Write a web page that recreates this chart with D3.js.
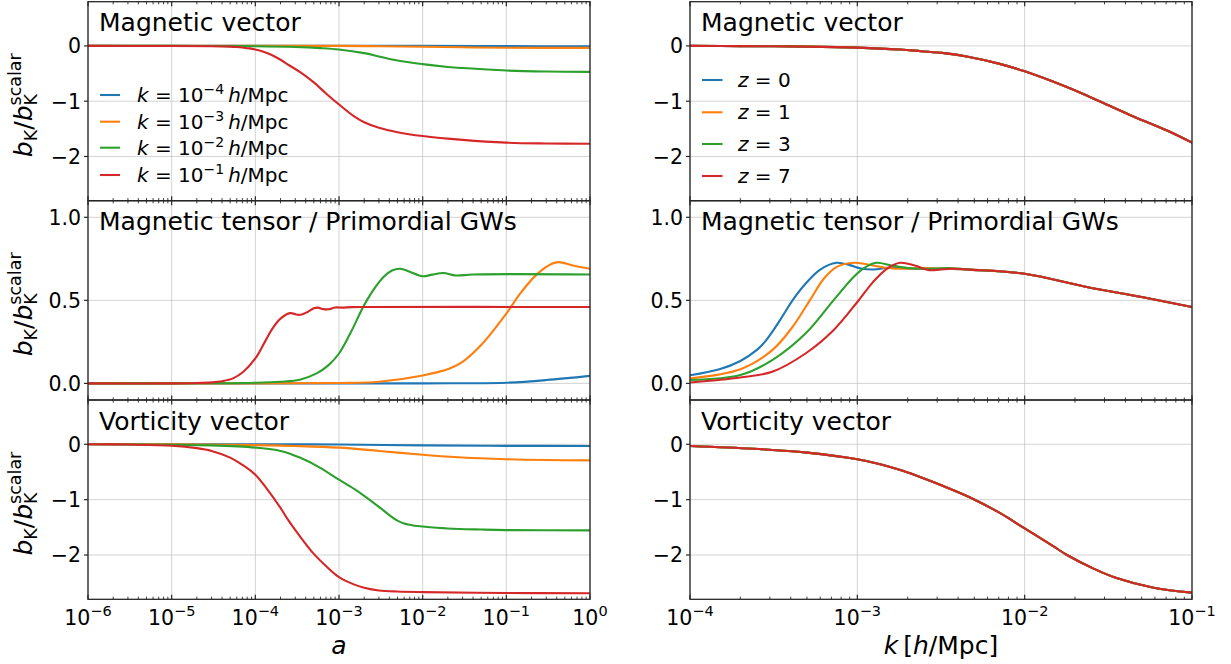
<!DOCTYPE html>
<html><head><meta charset="utf-8">
<script src="https://cdn.jsdelivr.net/npm/d3@7"></script>
<style>body{margin:0;background:#fff}svg{display:block}text{font-family:"DejaVu Sans",sans-serif;fill:#000}</style>
</head><body><svg id="c" width="1231" height="664"></svg>
<script>
// ---------- DATA ----------
const colors = ["#1f77b4","#ff7f0e","#2ca02c","#d62728"];
const kLabels = ["−4","−3","−2","−1"];          // k = 10^x h/Mpc
const zLabels = ["0","1","3","7"];
const panelTitles = ["Magnetic vector","Magnetic tensor / Primordial GWs","Vorticity vector"];
const aTicks = [1e-6,1e-5,1e-4,1e-3,1e-2,1e-1,1];
const aTickExp = ["−6","−5","−4","−3","−2","−1","0"];
const kTicks = [1e-4,1e-3,1e-2,1e-1];
const kTickExp = ["−4","−3","−2","−1"];
const yTicksVec = [-2,-1,0];
const yTickVecLabels = ["−2","−1","0"];
const yTicksTen = [0,0.5,1.0];
const yTickTenLabels = ["0.0","0.5","1.0"];

// left column: b_K / b_K^scalar versus a  ([a, value])
const magVecA_k4 = [[1e-6,0],[1e-2,0],[1e-1,-0.004],[1,-0.008]];
const magVecA_k3 = [[1e-6,0],[1e-3,0],[3e-3,-0.005],[1e-2,-0.015],[3e-2,-0.025],[1e-1,-0.033],[1,-0.036]];
const magVecA_k2 = [[1e-6,0],[1e-5,0],[3e-5,-0.002],[1e-4,-0.006],[3e-4,-0.02],[6e-4,-0.04],[1e-3,-0.065],[2e-3,-0.13],[3e-3,-0.19],[5e-3,-0.265],[1e-2,-0.33],[2e-2,-0.38],[3e-2,-0.40],[1e-1,-0.445],[3e-1,-0.463],[1,-0.47]];
const magVecA_k1 = [[1e-6,0],[1e-5,-0.001],[3e-5,-0.005],[5e-5,-0.012],[6e-5,-0.02],[7e-5,-0.03],[8.5e-5,-0.045],[1e-4,-0.065],[1.25e-4,-0.105],[1.5e-4,-0.15],[2e-4,-0.25],[2.5e-4,-0.345],[3.4e-4,-0.47],[5e-4,-0.66],[7e-4,-0.86],[1e-3,-1.06],[1.5e-3,-1.27],[2e-3,-1.38],[3e-3,-1.48],[5e-3,-1.56],[1e-2,-1.63],[3e-2,-1.70],[1e-1,-1.75],[3e-1,-1.765],[1,-1.77]];

const magTenA_k4 = [[1e-6,0],[1e-2,0],[3e-2,0.001],[1e-1,0.004],[3e-1,0.02],[1,0.045]];
const magTenA_k3 = [[1e-6,0],[1e-3,0.002],[3e-3,0.01],[1e-2,0.048],[2.1e-2,0.09],[3e-2,0.13],[5.2e-2,0.24],[1e-1,0.42],[1.46e-1,0.54],[2.3e-1,0.655],[3.5e-1,0.72],[4.2e-1,0.73],[6.3e-1,0.71],[1,0.69]];
const magTenA_k2 = [[1e-6,0],[3e-5,0.001],[1e-4,0.004],[2e-4,0.01],[3.4e-4,0.022],[5.4e-4,0.06],[7.5e-4,0.11],[1e-3,0.18],[1.36e-3,0.30],[2.15e-3,0.50],[3.4e-3,0.64],[4.3e-3,0.68],[5.4e-3,0.69],[7e-3,0.672],[1e-2,0.645],[1.3e-2,0.655],[1.76e-2,0.665],[2.5e-2,0.65],[4e-2,0.656],[1,0.656]];
const magTenA_k1 = [[1e-6,0],[1e-5,0],[2e-5,0.002],[3e-5,0.006],[4e-5,0.013],[5.4e-5,0.03],[7.2e-5,0.07],[1e-4,0.15],[1.3e-4,0.25],[1.6e-4,0.33],[2e-4,0.39],[2.6e-4,0.423],[3.2e-4,0.413],[3.6e-4,0.415],[4.2e-4,0.43],[5e-4,0.452],[5.6e-4,0.456],[6.5e-4,0.447],[7.5e-4,0.446],[9e-4,0.457],[1.1e-3,0.456],[1.4e-3,0.459],[2e-3,0.46],[1,0.46]];

const vorA_k4 = [[1e-6,0],[1e-4,0],[1e-3,-0.005],[1e-2,-0.02],[1e-1,-0.028],[1,-0.03]];
const vorA_k3 = [[1e-6,0],[1e-5,-0.002],[1e-4,-0.015],[3e-4,-0.03],[1e-3,-0.06],[3e-3,-0.12],[1e-2,-0.19],[3e-2,-0.24],[1e-1,-0.27],[3e-1,-0.285],[1,-0.29]];
const vorA_k2 = [[1e-6,0],[1e-5,-0.01],[3e-5,-0.02],[1e-4,-0.06],[2e-4,-0.12],[3.4e-4,-0.24],[5.9e-4,-0.42],[1e-3,-0.64],[1.5e-3,-0.80],[2e-3,-0.93],[3e-3,-1.13],[4e-3,-1.28],[5e-3,-1.38],[6e-3,-1.43],[7e-3,-1.455],[8e-3,-1.47],[1e-2,-1.485],[2e-2,-1.52],[5e-2,-1.54],[1e-1,-1.55],[1,-1.555]];
const vorA_k1 = [[1e-6,0],[3e-6,-0.005],[1e-5,-0.025],[2e-5,-0.07],[3e-5,-0.12],[5e-5,-0.24],[7e-5,-0.37],[1e-4,-0.55],[1.5e-4,-0.88],[2e-4,-1.15],[2.5e-4,-1.38],[3.4e-4,-1.66],[5e-4,-1.98],[7e-4,-2.2],[1e-3,-2.40],[1.5e-3,-2.53],[2e-3,-2.59],[3e-3,-2.64],[5e-3,-2.66],[1e-2,-2.67],[1e-1,-2.685],[1,-2.69]];

// right column: b_K / b_K^scalar versus k [h/Mpc]  ([k, value]); the four redshifts overlap in the vector panels
const magVecK_z0 = [[1e-4,0],[2e-4,-0.004],[5e-4,-0.012],[1e-3,-0.03],[1.8e-3,-0.065],[2.4e-3,-0.095],[3.3e-3,-0.13],[4.5e-3,-0.19],[7e-3,-0.32],[1e-2,-0.46],[1.77e-2,-0.74],[2.8e-2,-1.0],[4.5e-2,-1.28],[7.1e-2,-1.53],[1e-1,-1.75]];
const magVecK_z1 = magVecK_z0, magVecK_z3 = magVecK_z0, magVecK_z7 = magVecK_z0;

const magTenK_z0 = [[1e-4,0.049],[1.5e-4,0.085],[2e-4,0.135],[2.5e-4,0.20],[2.8e-4,0.25],[3.1e-4,0.31],[3.6e-4,0.41],[4.1e-4,0.50],[4.9e-4,0.60],[6e-4,0.685],[7.5e-4,0.726],[9e-4,0.712],[1.05e-3,0.692],[1.25e-3,0.686],[1.6e-3,0.698],[2.2e-3,0.69],[3e-3,0.692],[4.7e-3,0.685],[1e-2,0.66],[2.35e-2,0.58],[5e-2,0.52],[1e-1,0.46]];
const magTenK_z1 = [[1e-4,0.03],[2e-4,0.085],[3.1e-4,0.20],[4.1e-4,0.34],[5.2e-4,0.50],[6.3e-4,0.63],[7.5e-4,0.70],[9.5e-4,0.726],[1.24e-3,0.71],[1.5e-3,0.695],[2e-3,0.69],[2.5e-3,0.695],[3e-3,0.692],[4.7e-3,0.685],[1e-2,0.66],[2.35e-2,0.58],[5e-2,0.52],[1e-1,0.46]];
const magTenK_z3 = [[1e-4,0.02],[2e-4,0.05],[3.1e-4,0.14],[4.9e-4,0.30],[7.2e-4,0.50],[9.5e-4,0.64],[1.1e-3,0.695],[1.3e-3,0.726],[1.6e-3,0.71],[2e-3,0.695],[2.5e-3,0.69],[3e-3,0.69],[3.5e-3,0.695],[4.7e-3,0.685],[1e-2,0.66],[2.35e-2,0.58],[5e-2,0.52],[1e-1,0.46]];
const magTenK_z7 = [[1e-4,0.005],[2e-4,0.035],[3.1e-4,0.07],[4.9e-4,0.18],[7.2e-4,0.32],[1e-3,0.49],[1.24e-3,0.61],[1.5e-3,0.69],[1.8e-3,0.726],[2.2e-3,0.71],[2.7e-3,0.682],[3.1e-3,0.685],[3.6e-3,0.69],[4.2e-3,0.689],[4.7e-3,0.685],[1e-2,0.66],[2.35e-2,0.58],[5e-2,0.52],[1e-1,0.46]];

const vorK_z0 = [[1e-4,-0.03],[2.4e-4,-0.08],[5e-4,-0.15],[1e-3,-0.27],[1.37e-3,-0.36],[1.87e-3,-0.48],[2.37e-3,-0.59],[3.12e-3,-0.73],[4.72e-3,-0.96],[7.1e-3,-1.24],[1e-2,-1.52],[1.48e-2,-1.84],[1.79e-2,-2.0],[2.6e-2,-2.25],[3.5e-2,-2.41],[5.9e-2,-2.59],[1e-1,-2.68]];
const vorK_z1 = vorK_z0, vorK_z3 = vorK_z0, vorK_z7 = vorK_z0;

// ---------- LAYOUT ----------
const svg = d3.select("#c");
const cols = [{x0:88,x1:590,dom:[1e-6,1],ticks:aTicks,exp:aTickExp},{x0:690,x1:1192,dom:[1e-4,1e-1],ticks:kTicks,exp:kTickExp}];
const rows = [{y0:1.7,y1:200.7,dom:[-2.8,0.8],ticks:yTicksVec,labels:yTickVecLabels},
              {y0:200.7,y1:400,dom:[-0.1,1.1],ticks:yTicksTen,labels:yTickTenLabels},
              {y0:400,y1:599.3,dom:[-2.8,0.8],ticks:yTicksVec,labels:yTickVecLabels}];
const seriesGrid = [
  [[magVecA_k4,magVecA_k3,magVecA_k2,magVecA_k1],[magVecK_z0,magVecK_z1,magVecK_z3,magVecK_z7]],
  [[magTenA_k4,magTenA_k3,magTenA_k2,magTenA_k1],[magTenK_z0,magTenK_z1,magTenK_z3,magTenK_z7]],
  [[vorA_k4,vorA_k3,vorA_k2,vorA_k1],[vorK_z0,vorK_z1,vorK_z3,vorK_z7]]
];
const spine = "#262626";

function minorTicks(dom){
  const out=[]; const lo=Math.round(Math.log10(dom[0])), hi=Math.round(Math.log10(dom[1]));
  for(let e=lo;e<hi;e++) for(let m=2;m<=9;m++) out.push(m*Math.pow(10,e));
  return out;
}

rows.forEach((r,ri)=>{
  cols.forEach((c,ci)=>{
    const x = d3.scaleLog().domain(c.dom).range([c.x0,c.x1]);
    const y = d3.scaleLinear().domain(r.dom).range([r.y1,r.y0]);
    const g = svg.append("g");
    const id = "clip"+ri+"_"+ci;
    svg.append("clipPath").attr("id",id).append("rect").attr("x",c.x0).attr("y",r.y0).attr("width",c.x1-c.x0).attr("height",r.y1-r.y0);
    // grid
    g.selectAll(".gx").data(c.ticks).join("line").attr("x1",d=>x(d)).attr("x2",d=>x(d)).attr("y1",r.y0).attr("y2",r.y1)
      .attr("stroke","#b0b0b0").attr("stroke-opacity",0.55).attr("stroke-width",1);
    g.selectAll(".gy").data(r.ticks).join("line").attr("x1",c.x0).attr("x2",c.x1).attr("y1",d=>y(d)).attr("y2",d=>y(d))
      .attr("stroke","#b0b0b0").attr("stroke-opacity",0.55).attr("stroke-width",1);
    // lines
    const line = d3.line().x(d=>x(d[0])).y(d=>y(d[1])).curve(d3.curveCatmullRom.alpha(0.5));
    const lg = g.append("g").attr("clip-path","url(#"+id+")");
    seriesGrid[ri][ci].forEach((s,si)=>{
      lg.append("path").attr("d",line(s)).attr("fill","none").attr("stroke",colors[si]).attr("stroke-width",2.1).attr("stroke-linejoin","round").attr("stroke-linecap","round");
    });
    // frame
    g.append("rect").attr("x",c.x0).attr("y",r.y0).attr("width",c.x1-c.x0).attr("height",r.y1-r.y0)
      .attr("fill","none").attr("stroke",spine).attr("stroke-width",1.3);
    // x ticks (inward, top & bottom)
    const mt = minorTicks(c.dom);
    [[r.y1,-1],[r.y0,1]].forEach(([yy,dir])=>{
      g.selectAll(null).data(c.ticks).join("line").attr("x1",d=>x(d)).attr("x2",d=>x(d)).attr("y1",yy).attr("y2",yy+dir*4.5).attr("stroke",spine).attr("stroke-width",1.2);
      g.selectAll(null).data(mt).join("line").attr("x1",d=>x(d)).attr("x2",d=>x(d)).attr("y1",yy).attr("y2",yy+dir*2.6).attr("stroke",spine).attr("stroke-width",0.9);
    });
    // y ticks (outward left)
    g.selectAll(null).data(r.ticks).join("line").attr("x1",c.x0-4).attr("x2",c.x0).attr("y1",d=>y(d)).attr("y2",d=>y(d)).attr("stroke",spine).attr("stroke-width",1.2);
    g.selectAll(null).data(r.ticks).join("text").attr("x",c.x0-7).attr("y",d=>y(d)).attr("dy","0.36em")
      .attr("text-anchor","end").attr("font-size",20.5).text((d,i)=>r.labels[i]);
    // title
    g.append("text").attr("x",c.x0+11).attr("y",r.y0+29.5).attr("font-size",25).text(panelTitles[ri]);
    // x tick labels
    if(ri===2){
      c.ticks.forEach((t,i)=>{
        const tx = g.append("text").attr("x",x(t)).attr("y",625).attr("text-anchor","middle").attr("font-size",20.5);
        tx.append("tspan").text("10");
        tx.append("tspan").attr("font-size",14.5).attr("dy",-9).text(c.exp[i]);
      });
    }
  });
  // y label
  const cy = (r.y0+r.y1)/2 + 4;
  const lg = svg.append("g").attr("transform","translate(31.5,"+cy+") rotate(-90)");
  const tmp = lg.append("text").attr("font-size",17.5).text("K");
  const kw = tmp.node().getComputedTextLength(); tmp.remove();
  const t = lg.append("text").attr("x",0).attr("y",0).attr("text-anchor","middle").attr("font-size",25);
  t.append("tspan").attr("font-style","italic").text("b");
  t.append("tspan").attr("font-size",17.5).attr("dy",5.5).text("K");
  t.append("tspan").attr("dy",-5.5).text("/");
  t.append("tspan").attr("font-style","italic").text("b");
  t.append("tspan").attr("font-size",17.5).attr("dy",5.5).text("K");
  t.append("tspan").attr("font-size",17.5).attr("dx",-kw).attr("dy",-16).text("scalar");
});

// x axis labels
const xa = svg.append("text").attr("x",(cols[0].x0+cols[0].x1)/2).attr("y",654).attr("text-anchor","middle").attr("font-size",25);
xa.append("tspan").attr("font-style","italic").text("a");
const xk = svg.append("text").attr("x",(cols[1].x0+cols[1].x1)/2).attr("y",654).attr("text-anchor","middle").attr("font-size",25);
xk.append("tspan").attr("font-style","italic").text("k");
xk.append("tspan").text("\u2009[");
xk.append("tspan").attr("font-style","italic").text("h");
xk.append("tspan").text("/Mpc]");

// legends
const legL = [95,121.7,147.7,175];
legL.forEach((yy,i)=>{
  svg.append("line").attr("x1",100).attr("x2",120).attr("y1",yy).attr("y2",yy).attr("stroke",colors[i]).attr("stroke-width",2.1);
  const t = svg.append("text").attr("x",137).attr("y",yy+7).attr("font-size",20);
  t.append("tspan").attr("font-style","italic").text("k");
  t.append("tspan").text(" = 10");
  t.append("tspan").attr("font-size",14).attr("dy",-8).text(kLabels[i]);
  t.append("tspan").attr("dy",8).attr("font-style","italic").text("\u2009h");
  t.append("tspan").text("/Mpc");
});
const legR = [80,112.3,144,176];
legR.forEach((yy,i)=>{
  svg.append("line").attr("x1",702).attr("x2",722.5).attr("y1",yy).attr("y2",yy).attr("stroke",colors[i]).attr("stroke-width",2.1);
  const t = svg.append("text").attr("x",738).attr("y",yy+7).attr("font-size",20);
  t.append("tspan").attr("font-style","italic").text("z");
  t.append("tspan").text(" = "+zLabels[i]);
});
</script></body></html>
